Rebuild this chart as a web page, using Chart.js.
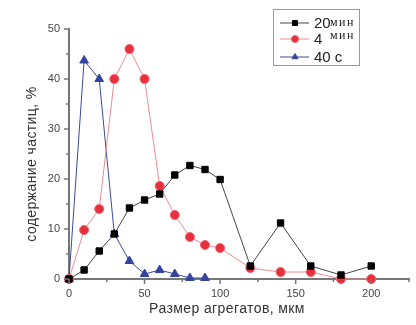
<!DOCTYPE html>
<html lang="ru">
<head>
    <meta charset="UTF-8">
    <title>Размер агрегатов</title>
    <style>
        body {
            margin: 0;
            padding: 0;
            background: #fff;
        }
        #wrap {
            width: 416px;
            height: 325px;
        }
    </style>
</head>
<body>
<div id="wrap">
    <canvas id="chart" width="416" height="325"></canvas>
</div>

<script src="https://cdn.jsdelivr.net/npm/chart.js"></script>
<script>
    // aggregate size, um
    var sizes = [0, 10, 20, 30, 40, 50, 60, 70, 80, 90, 100, 120, 140, 160, 180, 200];
    var sizesShort = [0, 10, 20, 30, 40, 50, 60, 70, 80, 90];
    // particle content, %
    var min20 = [0, 1.8, 5.6, 9, 14.2, 15.8, 17, 20.8, 22.7, 21.9, 19.9, 2.6, 11.2, 2.6, 0.8, 2.6];
    var min4 = [0, 9.8, 14, 40, 46, 40, 18.6, 12.8, 8.4, 6.8, 6.2, 2.2, 1.4, 1.4, 0, 0];
    var sec40 = [0, 43.7, 40, 9, 3.6, 1, 1.8, 1, 0.2, 0.2];
    var seriesNames = ['20 мин', '4 мин', '40 с'];
    var xTitle = 'Размер агрегатов, мкм';
    var yTitle = 'содержание частиц, %';

    function pts(xs, ys) {
        return xs.map(function (x, i) { return {x: x, y: ys[i]}; });
    }

    // tick marks (long for labelled ticks) and axis titles
    var axisPlugin = {
        id: 'axisDeco',
        afterDraw: function (chart) {
            var ctx = chart.ctx;
            var xs = chart.scales.x, ys = chart.scales.y;
            ctx.save();
            ctx.strokeStyle = '#777';
            ctx.lineWidth = 1.5;
            ctx.beginPath();
            xs.ticks.forEach(function (t) {
                var px = xs.getPixelForValue(t.value);
                var len = t.value % 50 === 0 ? 5 : 3;
                ctx.moveTo(px, ys.bottom);
                ctx.lineTo(px, ys.bottom + len);
            });
            ys.ticks.forEach(function (t) {
                var py = ys.getPixelForValue(t.value);
                var len = t.value % 10 === 0 ? 5 : 3;
                ctx.moveTo(xs.left, py);
                ctx.lineTo(xs.left - len, py);
            });
            ctx.stroke();

            ctx.fillStyle = '#333';
            ctx.font = '14px "Liberation Sans", Arial, sans-serif';
            ctx.letterSpacing = '0.4px';
            ctx.textAlign = 'center';
            ctx.textBaseline = 'middle';
            ctx.fillText(xTitle, 227, 309);
            ctx.translate(32, 164);
            ctx.rotate(-Math.PI / 2);
            ctx.fillText(yTitle, 0, 0);
            ctx.restore();
        }
    };

    // boxed legend inside the plot, top right
    var legendPlugin = {
        id: 'boxLegend',
        afterDraw: function (chart) {
            var ctx = chart.ctx;
            var bx = 273.5, by = 9.5, bw = 86, bh = 56;
            var rows = [23, 39, 57];
            ctx.save();
            ctx.fillStyle = '#fff';
            ctx.fillRect(bx, by, bw, bh);
            ctx.strokeStyle = '#999';
            ctx.lineWidth = 1;
            ctx.strokeRect(bx, by, bw, bh);
            chart.data.datasets.forEach(function (ds, i) {
                var y = rows[i];
                ctx.strokeStyle = ds.borderColor;
                ctx.lineWidth = 1;
                ctx.beginPath();
                ctx.moveTo(280, y);
                ctx.lineTo(309, y);
                ctx.stroke();
                ctx.fillStyle = ds.pointBackgroundColor;
                ctx.strokeStyle = ds.pointBorderColor;
                Chart.helpers.drawPoint(ctx, {pointStyle: ds.pointStyle, radius: 3.5, rotation: 0, borderWidth: 1}, 295, y);
                var parts = seriesNames[i].split(' ');
                ctx.fillStyle = '#222';
                ctx.textBaseline = 'middle';
                ctx.font = '15px "Liberation Sans", Arial, sans-serif';
                ctx.fillText(parts[0], 314, y + 1);
                if (parts[1] === 'с') {
                    ctx.fillText(' ' + parts[1], 314 + ctx.measureText(parts[0]).width, y + 1);
                } else {
                    ctx.font = '12px "Liberation Serif", "Times New Roman", serif';
                    ctx.letterSpacing = '1.5px';
                    ctx.fillText(parts[1], 330, i === 1 ? y - 3 : y);
                    ctx.letterSpacing = '0px';
                }
            });
            ctx.restore();
        }
    };

    var ctx = document.getElementById('chart').getContext('2d');
    var chart = new Chart(ctx, {
        type: 'scatter',
        data: {
            datasets: [{
                label: seriesNames[0],
                data: pts(sizes, min20),
                showLine: true,
                borderColor: '#444',
                borderWidth: 1,
                pointStyle: 'rect',
                pointRadius: 4.5,
                pointBackgroundColor: '#000',
                pointBorderColor: '#000',
                clip: false
            }, {
                label: seriesNames[1],
                data: pts(sizes, min4),
                showLine: true,
                borderColor: '#f08a94',
                borderWidth: 1,
                pointStyle: 'circle',
                pointRadius: 4.5,
                pointBackgroundColor: '#e8303c',
                pointBorderColor: '#f06070',
                clip: false
            }, {
                label: seriesNames[2],
                data: pts(sizesShort, sec40),
                showLine: true,
                borderColor: '#3c4a9c',
                borderWidth: 1,
                pointStyle: 'triangle',
                pointRadius: 5,
                pointBackgroundColor: '#34449c',
                pointBorderColor: '#34449c',
                clip: false
            }]
        },
        options: {
            responsive: false,
            animation: false,
            layout: {padding: {top: 29, right: 7, left: 0, bottom: 0}},
            plugins: {
                legend: {display: false},
                tooltip: {enabled: false}
            },
            scales: {
                x: {
                    type: 'linear',
                    min: 0,
                    max: 225,
                    afterFit: function (s) { s.height = 46; },
                    border: {color: '#777', width: 2},
                    grid: {drawOnChartArea: false, tickLength: 5, tickColor: 'rgba(0,0,0,0)'},
                    ticks: {
                        stepSize: 25,
                        autoSkip: false,
                        maxRotation: 0,
                        padding: 3,
                        color: '#444',
                        font: {family: '"Liberation Sans", Arial, sans-serif', size: 11},
                        callback: function (v) { return v % 50 === 0 ? v : ''; }
                    }
                },
                y: {
                    min: 0,
                    max: 50,
                    afterFit: function (s) { s.width = 69; },
                    border: {color: '#777', width: 2},
                    grid: {drawOnChartArea: false, tickLength: 5, tickColor: 'rgba(0,0,0,0)'},
                    ticks: {
                        stepSize: 5,
                        autoSkip: false,
                        padding: 4,
                        color: '#444',
                        font: {family: '"Liberation Sans", Arial, sans-serif', size: 11},
                        callback: function (v) { return v % 10 === 0 ? v : ''; }
                    }
                }
            }
        },
        plugins: [axisPlugin, legendPlugin]
    });
</script>
</body>
</html>
